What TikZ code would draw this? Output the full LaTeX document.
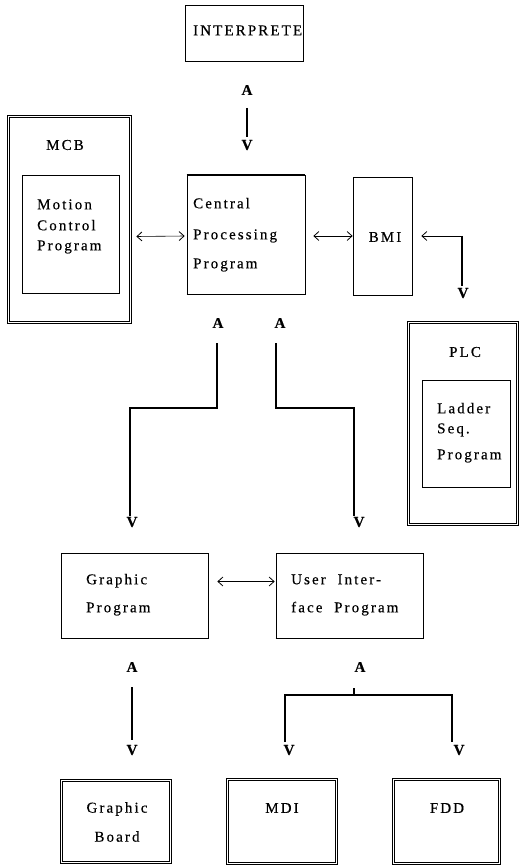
\documentclass[tikz,border=0pt]{standalone}
\usepackage{fontspec}
\setmainfont{Liberation Serif}[LetterSpace=14,FakeBold=0.4]
\usetikzlibrary{arrows.meta,calc}
\begin{document}
\begin{tikzpicture}[x=1pt,y=-1pt,
  every node/.style={font=\fontsize{15}{18}\selectfont, inner sep=0pt},
  sbox/.style={draw, line width=0.7pt, inner sep=0pt},
  dbox/.style={draw, line width=0.7pt, inner sep=0pt},
  inner/.style={line width=0.7pt},
  txt/.style={anchor=mid west},
  lab/.style={font=\fontsize{15}{17}\selectfont\bfseries},
  conn/.style={line width=1.8pt},
  tip/.tip={Straight Barb[length=5pt,width=9pt,line width=0.8pt]},
  harr/.style={line width=0.6pt, tip-tip},
  larr/.style={line width=0.6pt, tip-}
]
\useasboundingbox[fill=white] (0,0) rectangle (519,866);

% INTERPRETE
\node[sbox, minimum width=118pt, minimum height=56pt] (interp) at (244,33) {};
\node[anchor=mid west] (interpT) at (193,33) {INTERPRETE};
\node[lab] (a1) at (247,90) {A};
\node[lab] (v1) at (247,145) {V};
\draw[conn] ($(a1)+(0,18)$) -- ($(v1)+(0,-8)$);

% MCB
\node[dbox, minimum width=124pt, minimum height=208pt] (mcb) at (69,219.5) {};
\draw[inner] ($(mcb.north west)+(2.5,2.5)$) rectangle ($(mcb.south east)+(-2.5,-2.5)$);
\node (mcbT) at (65,145) {MCB};
\node[sbox, minimum width=97pt, minimum height=118pt] (mcp) at (70.5,234) {};
\node[txt] (mcp1) at (37,207) {Motion};
\node[txt] (mcp2) at (37,228) {Control};
\node[txt] (mcp3) at (37,248) {Program};

% Central
\node[sbox, minimum width=118pt, minimum height=119pt] (cpp) at (246,234.5) {};
\draw[line width=1.6pt] (cpp.south west) -- (cpp.south east);
\draw[line width=1.2pt] (cpp.north west) -- (cpp.north east);
\node[txt] (cpp1) at (193,206) {Central};
\node[txt] (cpp2) at (193,237) {Processing};
\node[txt] (cpp3) at (193,266) {Program};

% BMI
\node[sbox, minimum width=59pt, minimum height=118pt] (bmi) at (382.5,236) {};
\node (bmiT) at (385,237) {BMI};

\draw[harr] ($(mcb.east)+(5,17)$) -- ($(cpp.west)+(-2,1.5)$);
\draw[harr] ($(cpp.east)+(8,1.5)$) -- ($(bmi.west)+(0,0)$);

% PLC
\node[dbox, minimum width=111pt, minimum height=204pt] (plc) at (463,423.5) {};
\draw[inner] ($(plc.north west)+(2.5,2.5)$) rectangle ($(plc.south east)+(-2.5,-2.5)$);
\node (plcT) at (465,352) {PLC};
\node[sbox, minimum width=88pt, minimum height=107pt] (lsp) at (466,433.5) {};
\node[txt] (lsp1) at (437,411) {Ladder};
\node[txt] (lsp2) at (437,431) {Seq.};
\node[txt] (lsp3) at (437,457) {Program};

\node[lab] (vplc) at (463,293) {V};
\coordinate (bend) at ($(vplc)+(-1,-57)$);
\draw[larr] ($(bmi.east)+(9,0)$) -- (bend);
\draw[conn] (bend) -- ($(vplc)+(-1,-7)$);

% central down-connectors
\node[lab] (a2) at (218,323) {A};
\node[lab] (a3) at (280,323) {A};
\node[lab] (v2) at (132,522) {V};
\node[lab] (v3) at (359,522) {V};
\draw[conn, line join=miter] ($(a2)+(-1,20)$) -- ($(a2)+(-1,85)$) -| ($(v2)+(-2,-6)$);
\draw[conn, line join=miter] ($(a3)+(-4,20)$) -- ($(a3)+(-4,85)$) -| ($(v3)+(-5,-6)$);

% Graphic Program
\node[sbox, minimum width=147pt, minimum height=85pt] (gp) at (134.5,595.5) {};
\draw[line width=1.6pt] (gp.south west) -- (gp.south east);
\node[txt] (gp1) at (86,582) {Graphic};
\node[txt] (gp2) at (86,610) {Program};

% User Interface
\node[sbox, minimum width=147pt, minimum height=85pt] (ui) at (349.5,595.5) {};
\draw[line width=1.4pt] (ui.south west) -- (ui.south east);
\node[txt] (ui1) at (291,582) {User\ \ Inter-};
\node[txt] (ui2) at (291,610) {face\ \ Program};

\draw[harr] ($(gp.east)+(9,-14)$) -- ($(ui.west)+(-1,-14)$);

% lower connectors
\node[lab] (a4) at (132,667) {A};
\node[lab] (v4) at (132,750) {V};
\draw[conn] ($(a4)+(0,20)$) -- ($(v4)+(0,-10)$);

\node[lab] (a5) at (360,667) {A};
\node[lab] (v5) at (289,750) {V};
\node[lab] (v6) at (459,750) {V};
\coordinate (tk) at ($(a5)+(-6,28)$);
\draw[conn] ($(a5)+(-6,21)$) -- (tk);
\draw[line width=1.5pt, line join=miter] ($(v5)+(-4,-8)$) |- (tk) -| ($(v6)+(-7,-8)$);
\draw[conn] ($(v5)+(-4,-40)$) -- ($(v5)+(-4,-8)$);
\draw[conn] ($(v6)+(-7,-40)$) -- ($(v6)+(-7,-8)$);

% bottom boxes
\node[dbox, minimum width=111pt, minimum height=84pt] (gb) at (115.5,821.5) {};
\draw[inner] ($(gb.north west)+(2.5,2.5)$) rectangle ($(gb.south east)+(-2.5,-2.5)$);
\node[align=center, font=\fontsize{15}{29}\selectfont] (gbT) at (117,822) {Graphic\\Board};
\node[dbox, minimum width=111pt, minimum height=86pt] (mdi) at (281.5,821) {};
\draw[inner] ($(mdi.north west)+(2.5,2.5)$) rectangle ($(mdi.south east)+(-2.5,-2.5)$);
\node (mdiT) at (282,808) {MDI};
\node[dbox, minimum width=108pt, minimum height=86pt] (fdd) at (446,821) {};
\draw[inner] ($(fdd.north west)+(2.5,2.5)$) rectangle ($(fdd.south east)+(-2.5,-2.5)$);
\node (fddT) at (447,808) {FDD};
\end{tikzpicture}
\end{document}
